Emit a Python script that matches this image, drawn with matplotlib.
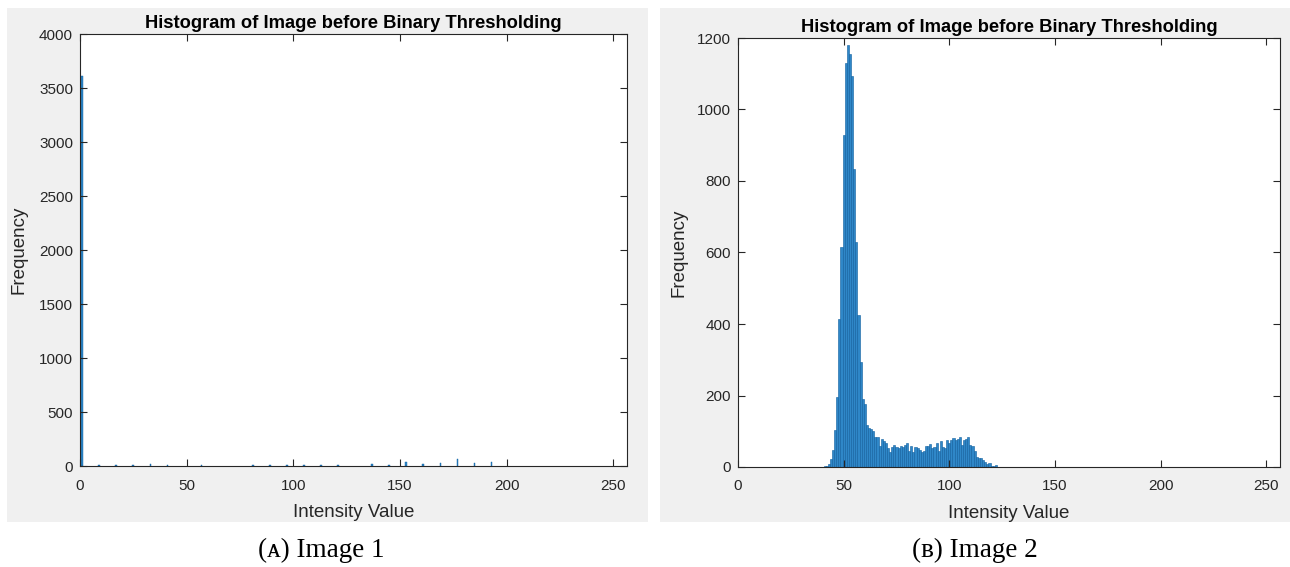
import matplotlib
matplotlib.use('Agg')
import matplotlib.pyplot as plt
from matplotlib.patches import Rectangle
import numpy as np

plt.rcParams['font.family'] = ['Liberation Sans', 'DejaVu Sans']

# image 1: a spike at 1, then sparse small bins every 8 levels
img1_levels = [1, 9, 17, 25, 33, 41, 57, 81, 89, 97, 105, 113, 121,
               137, 145, 153, 161, 169, 177, 185, 193]
img1_counts = [3610, 7, 7, 7, 16, 7, 7, 7, 7, 7, 7, 5, 7,
               16, 10, 34, 22, 28, 62, 25, 40]

# image 2: intensity levels 41..123
img2_levels = list(range(41, 124))
img2_counts = [2, 3, 8, 22, 48, 103, 195, 414, 616, 930,
               1129, 1180, 1155, 1094, 833, 628, 424, 293, 190, 175,
               117, 110, 105, 102, 83, 83, 60, 79, 74, 68,
               54, 43, 57, 61, 57, 54, 60, 57, 62, 66,
               46, 60, 43, 55, 52, 48, 43, 45, 59, 59,
               64, 52, 57, 68, 46, 74, 57, 52, 75, 68,
               75, 81, 75, 77, 83, 62, 75, 79, 83, 62,
               59, 46, 29, 26, 24, 20, 15, 8, 12, 3,
               3, 6, 1]

title = 'Histogram of Image before Binary Thresholding'
bar_face = '#2F87C8'
bar_edge = '#0E5E9E'
ink = '#262626'

fig = plt.figure(figsize=(12.9, 5.67), dpi=100)
fig.patch.set_facecolor('white')

# grey panels behind each plot
W, H = 1290.0, 567.0
for x0, x1 in [(7, 648), (660, 1290)]:
    fig.patches.append(Rectangle((x0 / W, 1 - 522 / H), (x1 - x0) / W, (522 - 8) / H,
                                 transform=fig.transFigure, facecolor='#F0F0F0',
                                 edgecolor='none', zorder=-10))


def style_ax(ax, ylim, ystep, ypad):
    ax.set_facecolor('white')
    ax.set_xlim(0, 256.5)
    ax.set_ylim(*ylim)
    ax.set_xticks([0, 50, 100, 150, 200, 250])
    ax.set_yticks(np.arange(ylim[0], ylim[1] + 1, ystep))
    ax.tick_params(direction='in', top=True, right=True, length=5, width=0.8,
                   colors=ink, labelsize=11)
    ax.tick_params(axis='x', pad=9)
    ax.tick_params(axis='y', pad=5)
    for s in ax.spines.values():
        s.set_color(ink)
        s.set_linewidth(0.8)
    ax.set_title(title, fontsize=13.2, fontweight='bold', color='black', pad=4)
    ax.set_xlabel('Intensity Value', fontsize=13.5, color=ink, labelpad=8)
    ax.set_ylabel('Frequency', fontsize=13.5, color=ink, labelpad=ypad)


ax1 = fig.add_axes([80 / W, 1 - 466 / H, 547 / W, 432 / H], zorder=1)
ax1.bar(img1_levels, img1_counts, width=0.8, color=bar_face,
        edgecolor=bar_edge, linewidth=0.3)
style_ax(ax1, (0, 4000), 500, 8)

ax2 = fig.add_axes([738 / W, 1 - 467 / H, 542 / W, 429 / H], zorder=1)
ax2.bar(img2_levels, img2_counts, width=1.0, color=bar_face,
        edgecolor=bar_edge, linewidth=0.4)
style_ax(ax2, (0, 1200), 200, 7)

cap = dict(fontsize=19.5, ha='center', va='center', family=['Liberation Serif', 'DejaVu Serif'])
fig.text(321 / W, 1 - 550 / H, '(\u1d00) Image 1', **cap)
fig.text(975 / W, 1 - 550 / H, '(\u0299) Image 2', **cap)

fig.savefig('out.png', dpi=100, facecolor='white')
